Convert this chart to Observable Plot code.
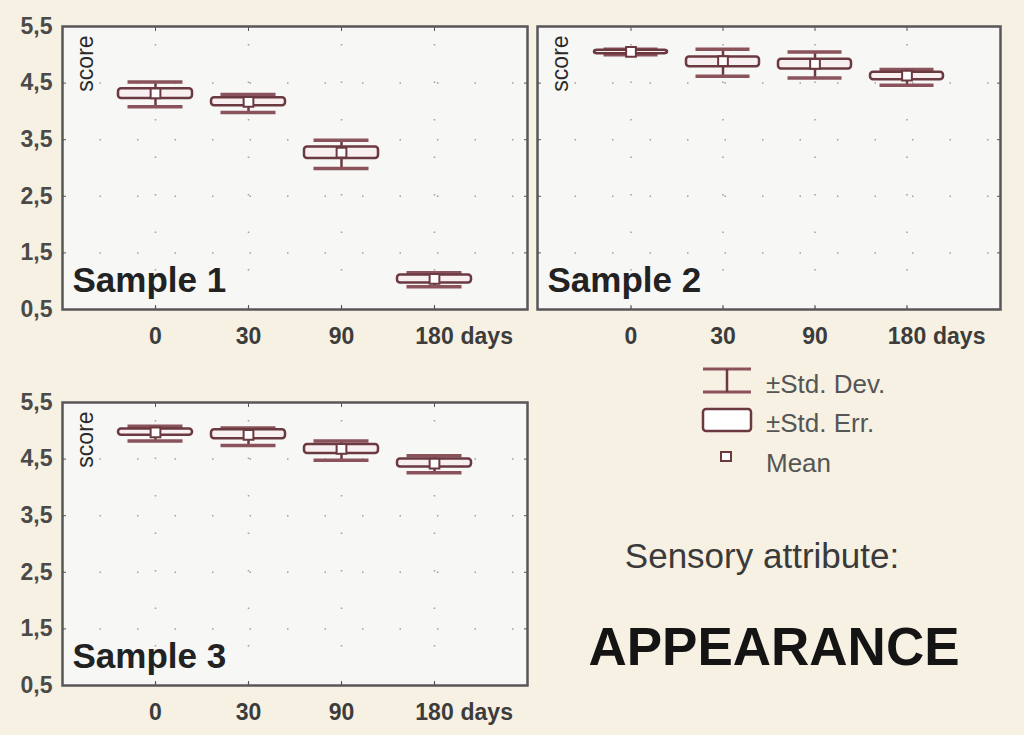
<!DOCTYPE html>
<html>
<head>
<meta charset="utf-8">
<script src="https://cdn.jsdelivr.net/npm/d3@7"></script>
<script src="https://cdn.jsdelivr.net/npm/@observablehq/plot@0.6"></script>
<style>
  html, body { margin: 0; padding: 0; }
  body { width: 1024px; height: 735px; background: #f6f1e2; position: relative; overflow: hidden;
         font-family: "Liberation Sans", Arial, sans-serif; }
  .pane { position: absolute; }
  #overlay { position: absolute; left: 0; top: 0; }
</style>
</head>
<body>
<div id="p1" class="pane" style="left:0px;top:0px"></div>
<div id="p2" class="pane" style="left:530px;top:0px"></div>
<div id="p3" class="pane" style="left:0px;top:376px"></div>
<svg id="overlay" width="1024" height="735"></svg>
<script>
// ---- data ----
const days = ["0", "30", "90", "180"];
const yTicks = [0.5, 1.5, 2.5, 3.5, 4.5, 5.5];
const yTickLabels = ["0,5", "1,5", "2,5", "3,5", "4,5", "5,5"];
const gridVals = [1.5, 2.5, 3.5, 4.5];

const s1Mean = [4.32, 4.17, 3.27, 1.04];
const s1SeLo = [4.23, 4.10, 3.17, 0.97];
const s1SeHi = [4.40, 4.24, 3.37, 1.11];
const s1SdLo = [4.08, 3.98, 2.99, 0.90];
const s1SdHi = [4.52, 4.30, 3.49, 1.15];

const s2Mean = [5.05, 4.89, 4.84, 4.63];
const s2SeLo = [5.02, 4.79, 4.75, 4.56];
const s2SeHi = [5.08, 4.96, 4.92, 4.69];
const s2SdLo = [5.00, 4.62, 4.59, 4.46];
const s2SdHi = [5.10, 5.10, 5.05, 4.74];

const s3Mean = [4.97, 4.93, 4.68, 4.42];
const s3SeLo = [4.92, 4.86, 4.60, 4.36];
const s3SeHi = [5.03, 5.02, 4.76, 4.50];
const s3SdLo = [4.82, 4.74, 4.48, 4.26];
const s3SdHi = [5.08, 5.05, 4.82, 4.56];

const legendLabels = ["±Std. Dev.", "±Std. Err.", "Mean"];
const attrLabel = "Sensory attribute:";
const attrName = "APPEARANCE";

// ---- styles ----
const FONT = '"Liberation Sans", Arial, sans-serif';
const dark = "#6b3a41";
const capColor = "#8a535b";
const boxFill = "#f8eff0";

function panel(el, title, mean, seLo, seHi, sdLo, sdHi, showY, w, mL, mR) {
  const data = days.map((d, i) => ({day: d, mean: mean[i], seLo: seLo[i], seHi: seHi[i], sdLo: sdLo[i], sdHi: sdHi[i]}));
  const chart = Plot.plot({
    width: w, height: 350,
    marginLeft: mL, marginRight: mR, marginTop: 26, marginBottom: 41,
    style: {fontFamily: FONT, fontSize: "23px", fontWeight: "bold", color: "#3c3c3c", background: "transparent", overflow: "visible"},
    x: {type: "band", domain: days, paddingInner: 0.204, paddingOuter: 0.602, axis: null},
    y: {domain: [0.5, 5.5], axis: null},
    marks: [
      Plot.frame({fill: "#f7f7f6", stroke: "none"}),
      Plot.gridY(gridVals, {stroke: "#8a8a8a", strokeOpacity: 0.8, strokeWidth: 1.5, strokeDasharray: "1.5,36"}),
      Plot.gridX(days, {stroke: "#8a8a8a", strokeOpacity: 0.8, strokeWidth: 1.5, strokeDasharray: "1.5,36", strokeDashoffset: -18}),
      Plot.axisX({tickSize: 0, tickPadding: 18, label: null}),
      Plot.axisX({anchor: "top", tickSize: -4, tickFormat: () => "", label: null, stroke: "#555"}),
      Plot.axisX({anchor: "bottom", tickSize: -4, tickFormat: () => "", label: null, stroke: "#555"}),
      Plot.axisY({anchor: "left", ticks: yTicks, tickSize: -4, tickFormat: () => "", label: null, stroke: "#555"}),
      Plot.axisY({anchor: "right", ticks: yTicks, tickSize: -4, tickFormat: () => "", label: null, stroke: "#555"}),
      Plot.text(["days"], {x: () => "180", frameAnchor: "bottom", dy: 27, dx: 26, textAnchor: "start", lineAnchor: "middle", fontSize: 23, fontWeight: "bold", fill: "#3c3c3c"}),
      showY ? Plot.axisY({ticks: yTicks, tickFormat: (d) => yTickLabels[yTicks.indexOf(d)], tickSize: 0, tickPadding: 10, label: null, fill: "#4a4a4a"}) : null,
      Plot.ruleX(data, {x: "day", y1: "sdLo", y2: "sdHi", stroke: dark, strokeWidth: 2.5}),
      Plot.tickY(data, {x: "day", y: "sdLo", insetLeft: 9.5, insetRight: 9.5, stroke: capColor, strokeWidth: 3.5}),
      Plot.tickY(data, {x: "day", y: "sdHi", insetLeft: 9.5, insetRight: 9.5, stroke: capColor, strokeWidth: 3.5}),
      Plot.barY(data, {x: "day", y1: "seLo", y2: "seHi", fill: boxFill, stroke: dark, strokeWidth: 2.5, rx: 3}),
      Plot.dot(data, {x: "day", y: "mean", symbol: "square", r: 5.5, fill: "#ffffff", stroke: dark, strokeWidth: 2}),
      Plot.frame({stroke: "#575757", strokeWidth: 2.5}),
      Plot.text([title], {frameAnchor: "bottom-left", dx: 10, dy: -29, textAnchor: "start", lineAnchor: "middle", fontSize: 35, fontWeight: "bold", fill: "#222"}),
      Plot.text(["score"], {frameAnchor: "top-left", dx: 23, dy: 37, rotate: -90, textAnchor: "middle", lineAnchor: "middle", fontSize: 23, fontWeight: "normal", fill: "#2a2a2a"})
    ]
  });
  document.getElementById(el).appendChild(chart);
}

panel("p1", "Sample 1", s1Mean, s1SeLo, s1SeHi, s1SdLo, s1SdHi, true, 530, 62, 3);
panel("p2", "Sample 2", s2Mean, s2SeLo, s2SeHi, s2SdLo, s2SdHi, false, 494, 7, 24);
panel("p3", "Sample 3", s3Mean, s3SeLo, s3SeHi, s3SdLo, s3SdHi, true, 530, 62, 3);

// ---- legend & captions ----
const ov = d3.select("#overlay");
const lg = ov.append("g");
// Std. Dev. icon
lg.append("line").attr("x1", 703).attr("x2", 751).attr("y1", 369).attr("y2", 369).attr("stroke", capColor).attr("stroke-width", 3);
lg.append("line").attr("x1", 703).attr("x2", 751).attr("y1", 392).attr("y2", 392).attr("stroke", capColor).attr("stroke-width", 3);
lg.append("line").attr("x1", 727).attr("x2", 727).attr("y1", 369).attr("y2", 392).attr("stroke", dark).attr("stroke-width", 2.5);
// Std. Err. icon
lg.append("rect").attr("x", 703).attr("y", 409).attr("width", 48).attr("height", 22).attr("rx", 3)
  .attr("fill", "#ffffff").attr("stroke", dark).attr("stroke-width", 2.5);
// Mean icon
lg.append("rect").attr("x", 721).attr("y", 452).attr("width", 10).attr("height", 9)
  .attr("fill", "#ffffff").attr("stroke", dark).attr("stroke-width", 2);
const ly = [393, 432, 472];
legendLabels.forEach((t, i) => {
  lg.append("text").attr("x", 766).attr("y", ly[i]).attr("font-family", FONT).attr("font-size", 26)
    .attr("fill", "#555").text(t);
});
ov.append("text").attr("x", 762).attr("y", 568).attr("text-anchor", "middle").attr("font-family", FONT)
  .attr("font-size", 35).attr("fill", "#3a3a3a").text(attrLabel);
ov.append("text").attr("x", 774).attr("y", 665).attr("text-anchor", "middle").attr("font-family", FONT)
  .attr("font-size", 53).attr("font-weight", "bold").attr("fill", "#141414").text(attrName);
</script>
</body>
</html>
